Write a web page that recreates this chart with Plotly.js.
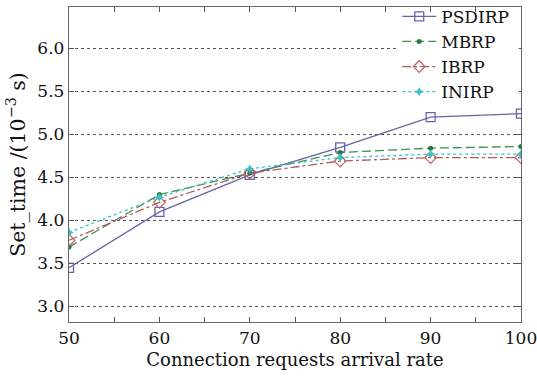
<!DOCTYPE html>
<html><head><meta charset="utf-8">
<script src="https://cdn.plot.ly/plotly-3.0.1.min.js"></script>
<style>html,body{margin:0;padding:0;background:#fff}#c{width:537px;height:382px}</style>
</head><body><div id="c"></div>
<script>
const rates = [50, 60, 70, 80, 90, 100];
const psdirp = [3.45, 4.10, 4.53, 4.85, 5.20, 5.24];
const mbrp   = [3.69, 4.30, 4.55, 4.79, 4.84, 4.86];
const ibrp   = [3.77, 4.21, 4.55, 4.69, 4.73, 4.73];
const inirp  = [3.86, 4.27, 4.60, 4.73, 4.77, 4.77];
const names  = ['PSDIRP', 'MBRP', 'IBRP', 'INIRP'];

const F = 'DejaVu Serif, Liberation Serif, serif';
const traces = [
  {x: rates, y: psdirp, name: names[0], mode: 'lines+markers',
   line: {color: '#6464ad', width: 1.3, dash: 'solid'},
   marker: {symbol: 'square-open', size: 9, color: '#6464ad', line: {width: 1.3}}},
  {x: rates, y: mbrp, name: names[1], mode: 'lines+markers',
   line: {color: '#3f8f4f', width: 1.3, dash: '9px,4px'},
   marker: {symbol: 'circle', size: 5, color: '#2a7a3a'}},
  {x: rates, y: ibrp, name: names[2], mode: 'lines+markers',
   line: {color: '#b05a5a', width: 1.3, dash: 'dashdot'},
   marker: {symbol: 'diamond-open', size: 9, color: '#c06060', line: {width: 1.2}}},
  {x: rates, y: inirp, name: names[3], mode: 'lines+markers',
   line: {color: '#3cc0c8', width: 1.3, dash: 'dot'},
   marker: {symbol: 'star-diamond', size: 7, color: '#3cc0c8'}}
];
const layout = {
  width: 537, height: 382,
  margin: {l: 69, r: 16, t: 7, b: 60, autoexpand: false},
  paper_bgcolor: '#fff', plot_bgcolor: '#fff',
  font: {family: F, size: 17, color: '#111'},
  showlegend: true,
  legend: {x: 0.985, xanchor: 'right', y: 1.026, yanchor: 'top', bgcolor: 'rgba(255,255,255,0)',
           borderwidth: 0, font: {family: F, size: 17, color: '#111'}, tracegroupgap: 0,
           itemwidth: 34},
  shapes: [{type: 'rect', xref: 'paper', yref: 'paper', x0: 0.725, x1: 0.995, y0: 0.69, y1: 0.984,
            fillcolor: '#fff', line: {width: 0}, layer: 'above'}],
  xaxis: {range: [50, 100], dtick: 10, tick0: 50, ticks: 'inside', ticklen: 5, tickcolor: '#555',
          mirror: 'ticks', showline: true, linecolor: '#666', linewidth: 1.2, showgrid: false, zeroline: false,
          minor: {dtick: 5, ticks: 'inside', ticklen: 5, tickcolor: '#555'},
          ticklabeloverflow: 'allow',
          tickfont: {family: F, size: 17},
          title: {text: 'Connection requests arrival rate', font: {family: F, size: 18}, standoff: 6}},
  yaxis: {range: [2.82, 6.48], dtick: 0.5, tick0: 3, tickformat: '.1f', ticks: 'inside', ticklen: 5, tickcolor: '#555',
          mirror: 'ticks', showline: true, linecolor: '#666', linewidth: 1.2, zeroline: false,
          showgrid: true, gridcolor: '#555', griddash: 'dot', gridwidth: 1,
          ticklabeloverflow: 'allow',
          tickfont: {family: F, size: 17},
          title: {text: 'Set_time /(10<sup>−3</sup> s)', font: {family: F, size: 20.5}, standoff: 6}}
};
Plotly.newPlot('c', traces, layout, {displayModeBar: false, staticPlot: true});
</script></body></html>
